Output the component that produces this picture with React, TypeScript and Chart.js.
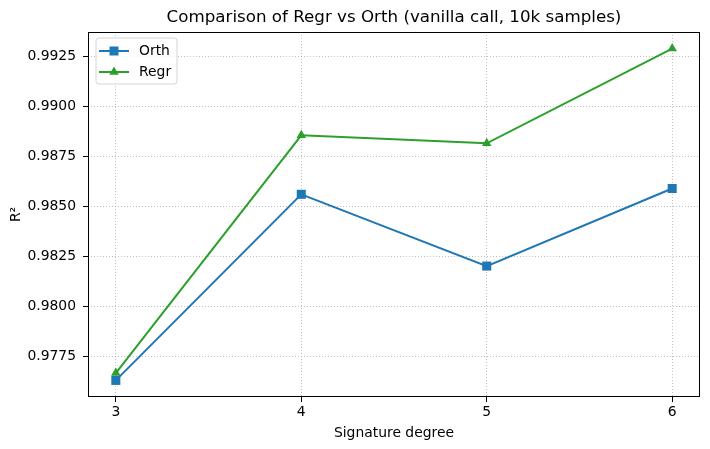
import React, { useEffect, useRef } from "react";
import { Chart, registerables } from "chart.js";

Chart.register(...registerables);

const degrees = [3, 4, 5, 6];
const orthValues = [0.97629, 0.9856, 0.98201, 0.98589];
const regrValues = [0.97666, 0.98855, 0.98815, 0.99289];
const xTicks = [3, 4, 5, 6];
const yTicks = [0.9775, 0.98, 0.9825, 0.985, 0.9875, 0.99, 0.9925];
const seriesNames = ["Orth", "Regr"];
const seriesColors = ["#1f77b4", "#2ca02c"];
const titleText = "Comparison of Regr vs Orth (vanilla call, 10k samples)";
const xLabel = "Signature degree";
const yLabel = "R²";

const FONT = "'DejaVu Sans', sans-serif";
const LABEL_SIZE = 13.9;
const TITLE_SIZE = 16.7;

function drawMarker(ctx: CanvasRenderingContext2D, style: string, x: number, y: number, color: string) {
  ctx.save();
  ctx.fillStyle = color;
  ctx.beginPath();
  if (style === "rect") {
    ctx.rect(x - 4.5, y - 4.5, 9, 9);
  } else {
    const r = 5.5;
    ctx.moveTo(x, y - r);
    ctx.lineTo(x + r * 0.866, y + r * 0.5);
    ctx.lineTo(x - r * 0.866, y + r * 0.5);
    ctx.closePath();
  }
  ctx.fill();
  ctx.restore();
}

const framePlugin = {
  id: "frameAndLegend",
  afterDraw(chart: any) {
    const { ctx, chartArea } = chart;
    ctx.save();
    // title centred over the axes
    ctx.fillStyle = "#000";
    ctx.font = `${TITLE_SIZE}px ${FONT}`;
    ctx.textAlign = "center";
    ctx.textBaseline = "middle";
    ctx.fillText(titleText, (chartArea.left + chartArea.right) / 2, chartArea.top - 14.5);
    // frame
    ctx.strokeStyle = "#000";
    ctx.lineWidth = 1;
    ctx.strokeRect(
      Math.round(chartArea.left) + 0.5,
      Math.round(chartArea.top) + 0.5,
      Math.round(chartArea.right - chartArea.left) - 1,
      Math.round(chartArea.bottom - chartArea.top) - 1
    );
    // legend
    const bx = chartArea.left + 8;
    const by = chartArea.top + 6;
    const bw = 81;
    const bh = 46;
    const rr = 3;
    ctx.beginPath();
    ctx.moveTo(bx + rr, by);
    ctx.lineTo(bx + bw - rr, by);
    ctx.quadraticCurveTo(bx + bw, by, bx + bw, by + rr);
    ctx.lineTo(bx + bw, by + bh - rr);
    ctx.quadraticCurveTo(bx + bw, by + bh, bx + bw - rr, by + bh);
    ctx.lineTo(bx + rr, by + bh);
    ctx.quadraticCurveTo(bx, by + bh, bx, by + bh - rr);
    ctx.lineTo(bx, by + rr);
    ctx.quadraticCurveTo(bx, by, bx + rr, by);
    ctx.closePath();
    ctx.fillStyle = "rgba(255,255,255,0.8)";
    ctx.fill();
    ctx.strokeStyle = "#d5d5d5";
    ctx.lineWidth = 1;
    ctx.stroke();
    const styles = ["rect", "triangle"];
    const offsets = [13, 34];
    seriesNames.forEach((name, i) => {
      const ly = by + offsets[i];
      ctx.strokeStyle = seriesColors[i];
      ctx.lineWidth = 2;
      ctx.beginPath();
      ctx.moveTo(bx + 3, ly);
      ctx.lineTo(bx + 33, ly);
      ctx.stroke();
      drawMarker(ctx, styles[i], bx + 18, ly, seriesColors[i]);
      ctx.fillStyle = "#000";
      ctx.font = `${LABEL_SIZE}px ${FONT}`;
      ctx.textBaseline = "middle";
      ctx.textAlign = "left";
      ctx.fillText(name, bx + 43, ly);
    });
    ctx.restore();
  },
};

const gridOpts = {
  color: "#b0b0b0",
  lineWidth: 0.8,
  tickColor: "#000",
  tickBorderDash: [],
  tickLength: 5,
  tickWidth: 1,
};

export default function App() {
  const ref = useRef<HTMLCanvasElement | null>(null);
  useEffect(() => {
    if (!ref.current) return;
    const chart = new Chart(ref.current, {
      type: "line",
      data: {
        datasets: [
          {
            label: seriesNames[0],
            data: degrees.map((d, i) => ({ x: d, y: orthValues[i] })),
            borderColor: seriesColors[0],
            backgroundColor: seriesColors[0],
            borderWidth: 2,
            pointStyle: "rect",
            pointRadius: 6.4,
            pointBorderWidth: 0,
            tension: 0,
          },
          {
            label: seriesNames[1],
            data: degrees.map((d, i) => ({ x: d, y: regrValues[i] })),
            borderColor: seriesColors[1],
            backgroundColor: seriesColors[1],
            borderWidth: 2,
            pointStyle: "triangle",
            pointRadius: 5.5,
            pointBorderWidth: 0,
            tension: 0,
          },
        ],
      },
      options: {
        animation: false,
        responsive: false,
        devicePixelRatio: 1,
        layout: { padding: { left: 0, right: 10, top: 32, bottom: 0 } },
        plugins: {
          legend: { display: false },
          tooltip: { enabled: false },
          title: { display: false },
        },
        scales: {
          x: {
            type: "linear",
            min: 2.85,
            max: 6.15,
            afterBuildTicks: (s: any) => {
              s.ticks = xTicks.map((v) => ({ value: v }));
            },
            afterFit: (s: any) => {
              s.height = 52;
            },
            ticks: {
              color: "#000",
              font: { family: FONT, size: LABEL_SIZE },
              padding: 2,
              maxRotation: 0,
              callback: (v: any) => String(v),
            },
            grid: gridOpts,
            border: { display: false, dash: [1, 2] },
            title: {
              display: true,
              text: xLabel,
              color: "#000",
              font: { family: FONT, size: LABEL_SIZE },
              padding: { top: 0, bottom: 7 },
            },
          },
          y: {
            type: "linear",
            min: 0.97546,
            max: 0.99372,
            afterBuildTicks: (s: any) => {
              s.ticks = yTicks.map((v) => ({ value: v }));
            },
            afterFit: (s: any) => {
              s.width = 88;
            },
            ticks: {
              color: "#000",
              font: { family: FONT, size: LABEL_SIZE },
              padding: 7,
              callback: (v: any) => Number(v).toFixed(4),
            },
            grid: gridOpts,
            border: { display: false, dash: [1, 2] },
            title: {
              display: true,
              text: yLabel,
              color: "#000",
              font: { family: FONT, size: LABEL_SIZE },
              padding: { top: 8, bottom: 0 },
            },
          },
        },
      } as any,
      plugins: [framePlugin],
    });
    return () => chart.destroy();
  }, []);
  return (
    <div style={{ position: "absolute", left: 0, top: 0, width: 710, height: 449, background: "#fff" }}>
      <canvas ref={ref} width={710} height={449} style={{ display: "block", width: 710, height: 449 }} />
    </div>
  );
}
